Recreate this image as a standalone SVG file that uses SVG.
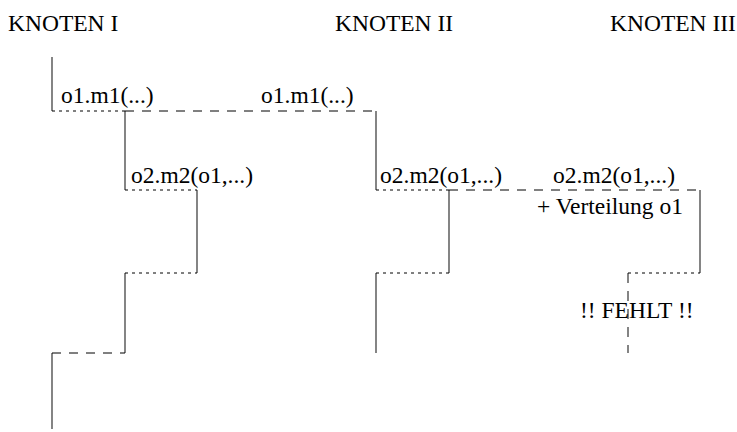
<svg xmlns="http://www.w3.org/2000/svg" width="737" height="432" viewBox="0 0 737 432">
  <style>
    text { font-family: 'Liberation Serif', 'Times New Roman', serif; font-size: 23.5px; fill: #000; }
    .life { stroke: #666; stroke-width: 1.6; fill: none; }
    .life-miss { stroke: #666; stroke-width: 1.6; fill: none; stroke-dasharray: 10 8; }
    .local { stroke: #000; stroke-width: 1; fill: none; stroke-dasharray: 3 4; }
    .remote { stroke: #000; stroke-width: 1; fill: none; stroke-dasharray: 9 8; }
  </style>
  <rect width="737" height="432" fill="#fff"/>

  <!-- node headers -->
  <g id="knoten-1"><text x="8" y="31">KNOTEN I</text></g>
  <g id="knoten-2"><text x="335" y="31">KNOTEN II</text></g>
  <g id="knoten-3"><text x="610" y="31">KNOTEN III</text></g>

  <!-- execution threads (vertical) -->
  <g id="threads">
    <path class="life" d="M52 57 V111"/>
    <path class="life" d="M125 111 V190"/>
    <path class="life" d="M197 190 V273"/>
    <path class="life" d="M125 273 V353"/>
    <path class="life" d="M52 353 V429"/>
    <path class="life" d="M376 111 V190"/>
    <path class="life" d="M449 190 V273"/>
    <path class="life" d="M376 273 V353"/>
    <path class="life" d="M700 190 V273"/>
    <path class="life-miss" d="M628 273 V353"/>
  </g>

  <!-- calls and returns (horizontal) -->
  <g id="connectors">
    <path class="local" d="M52 111 H125"/>
    <path class="remote" d="M125 111 H376"/>
    <path class="local" d="M125 190 H197"/>
    <path class="local" d="M376 190 H449"/>
    <path class="remote" d="M449 190 H700"/>
    <path class="local" d="M125 273 H197"/>
    <path class="local" d="M376 273 H449"/>
    <path class="local" d="M628 273 H700"/>
    <path class="remote" d="M52 353 H125"/>
  </g>

  <!-- call labels -->
  <g id="labels">
    <text x="61" y="103">o1.m1(...)</text>
    <text x="261" y="103">o1.m1(...)</text>
    <text x="131" y="183">o2.m2(o1,...)</text>
    <text x="380" y="183">o2.m2(o1,...)</text>
    <text x="553" y="183">o2.m2(o1,...)</text>
    <text x="537" y="214">+ Verteilung o1</text>
    <text x="580" y="318">!! FEHLT !!</text>
  </g>
</svg>
